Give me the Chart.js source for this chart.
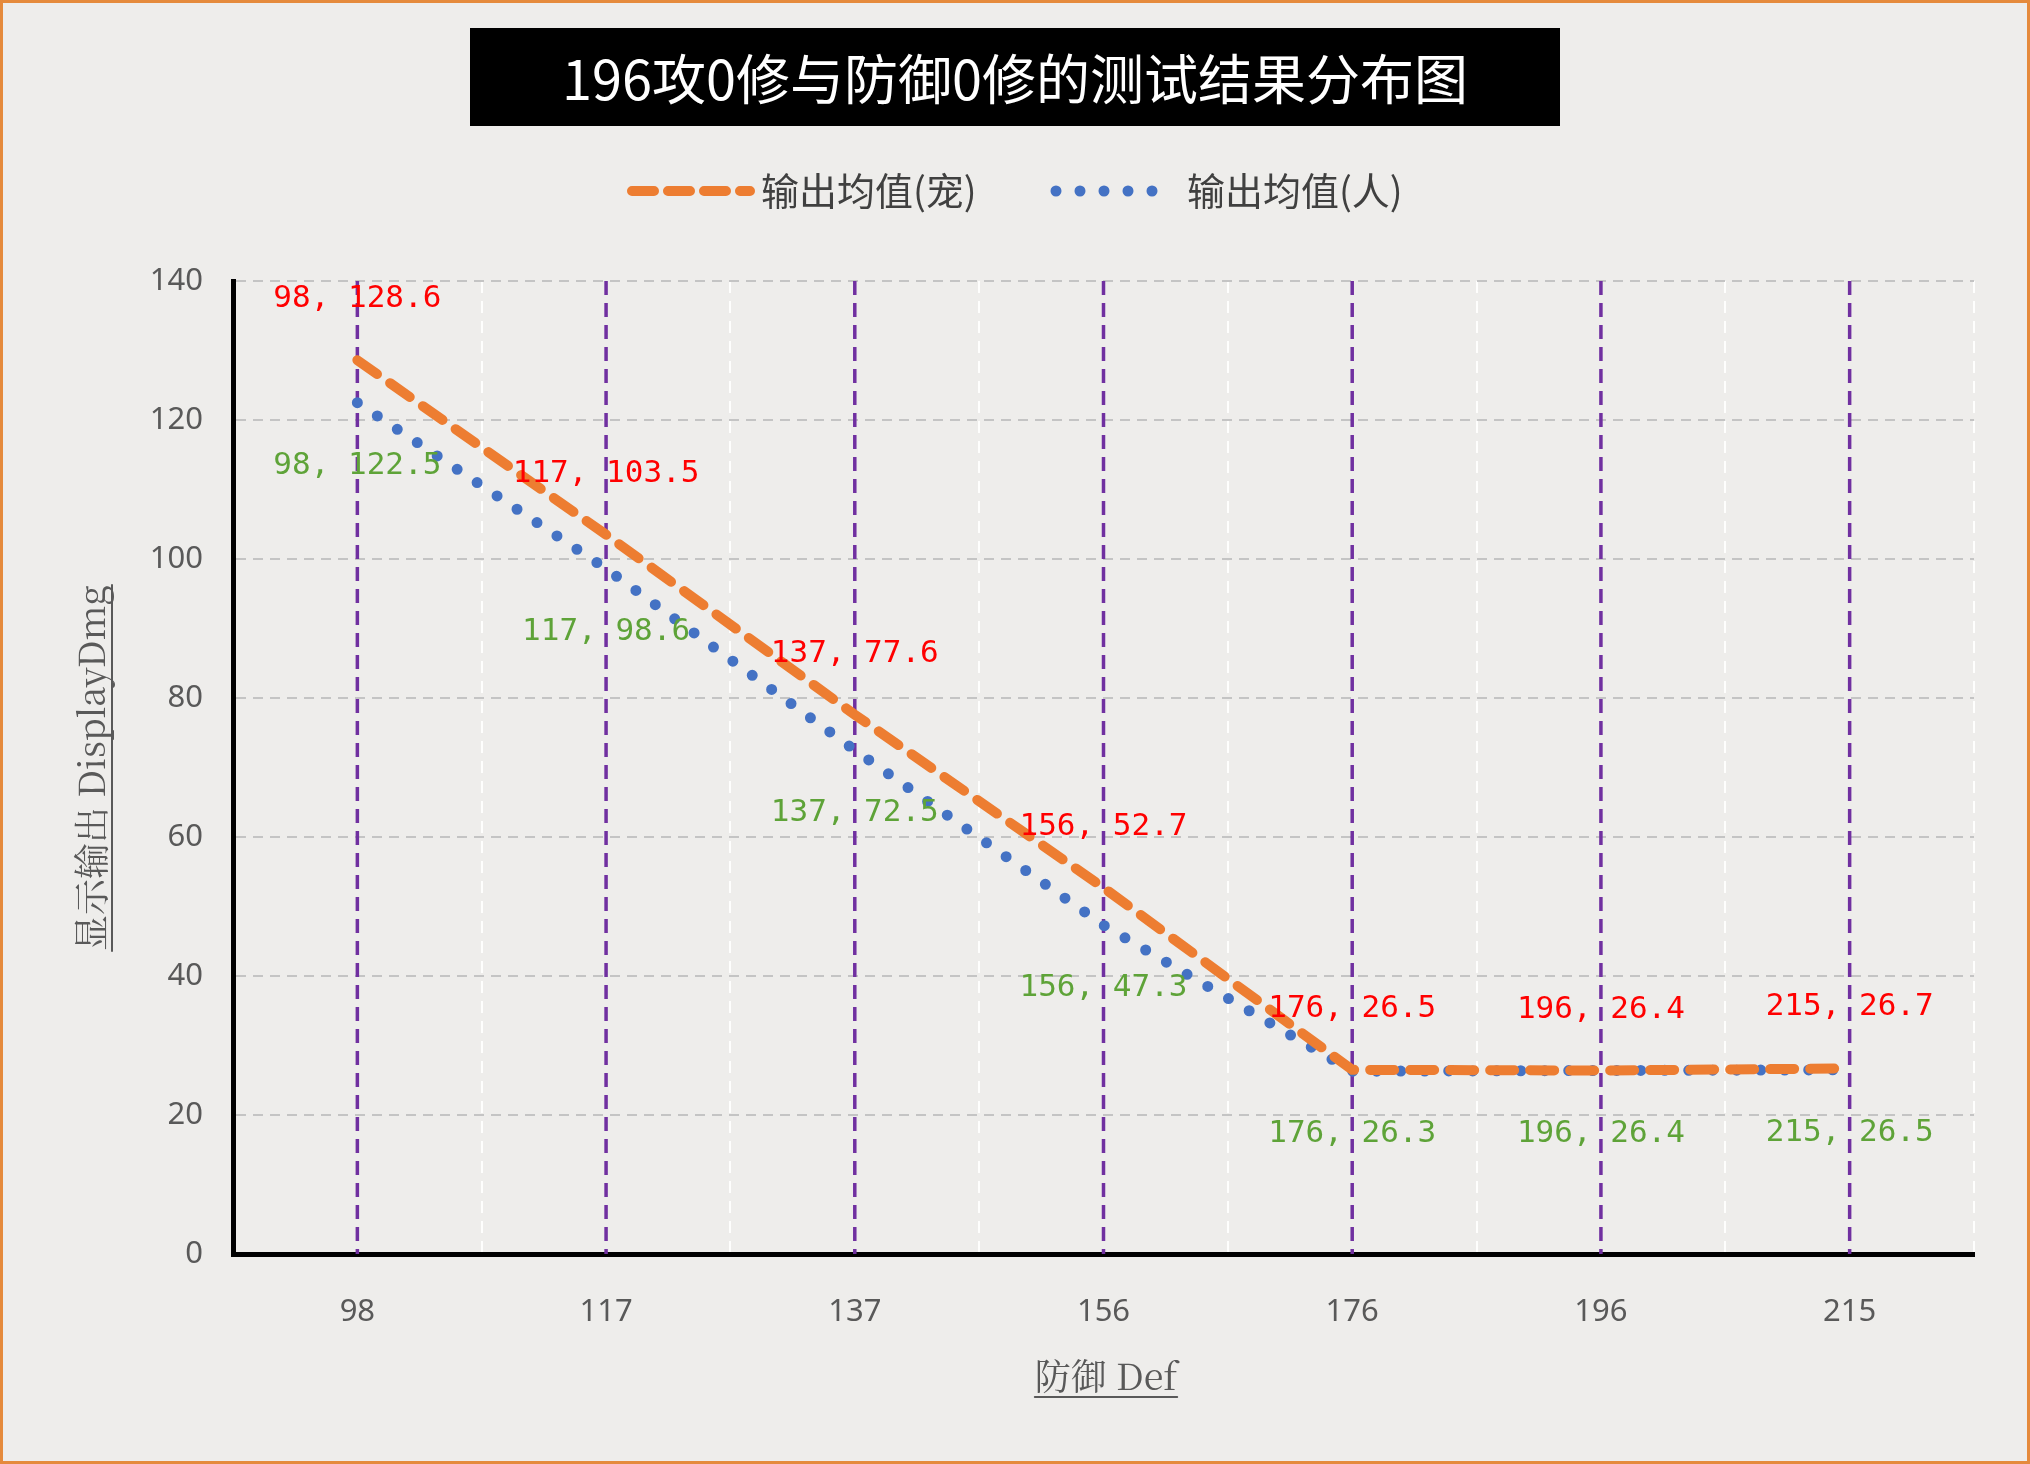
<!DOCTYPE html>
<html><head><meta charset="utf-8">
<script src="https://cdn.jsdelivr.net/npm/chart.js@4"></script>
<style>html,body{margin:0;padding:0;background:#eeedeb}canvas{display:block}</style>
</head><body>
<canvas id="c" width="2030" height="1464"></canvas>
<script>
const categories = ['98','117','137','156','176','196','215'];
const petValues = [128.6,103.5,77.6,52.7,26.5,26.4,26.7];
const humanValues = [122.5,98.6,72.5,47.3,26.3,26.4,26.5];
const yTicks = [0,20,40,60,80,100,120,140];
const titleText = '196攻0修与防御0修的测试结果分布图';
const petName = '输出均值(宠)', humanName = '输出均值(人)';
const CJK = '"Noto Sans CJK SC","Noto Sans",sans-serif';

const deco = {
  id:'deco',
  beforeDraw(ch){
    const c=ch.ctx; c.save();
    c.fillStyle='#eeedeb'; c.fillRect(0,0,ch.width,ch.height);
    c.strokeStyle='#e58a3c'; c.lineWidth=3; c.strokeRect(1.5,1.5,ch.width-3,ch.height-3);
    c.restore();
  },
  beforeDatasetsDraw(ch){
    const c=ch.ctx,a=ch.chartArea,x=ch.scales.x; c.save();
    c.strokeStyle='#7030a0'; c.lineWidth=3.5; c.setLineDash([14,8]);
    categories.forEach((_,i)=>{const px=x.getPixelForValue(i);c.beginPath();c.moveTo(px,a.top);c.lineTo(px,a.bottom);c.stroke();});
    c.restore();
  },
  afterDraw(ch){
    const c=ch.ctx,x=ch.scales.x,y=ch.scales.y; c.save();
    c.fillStyle='#000'; c.fillRect(470,28,1090,98);
    c.fillStyle='#fff'; c.font='54px '+CJK; c.textAlign='center'; c.textBaseline='middle';
    c.fillText(titleText,1015,79);
    c.lineCap='round';
    c.strokeStyle='#ed7d31'; c.lineWidth=10; c.setLineDash([22,14]);
    c.beginPath(); c.moveTo(632,191); c.lineTo(750,191); c.stroke();
    c.strokeStyle='#4472c4'; c.lineWidth=11; c.setLineDash([0,24]);
    c.beginPath(); c.moveTo(1056,191); c.lineTo(1175,191); c.stroke();
    c.setLineDash([]);
    c.fillStyle='#404040'; c.font='38px '+CJK; c.textAlign='left';
    c.fillText(petName,761,191); c.fillText(humanName,1187,191);
    c.font='31px "DejaVu Sans Mono",monospace'; c.textAlign='center';
    categories.forEach((cat,i)=>{
      const px=x.getPixelForValue(i);
      c.fillStyle='#ff0000'; c.fillText(cat+', '+petValues[i],px,y.getPixelForValue(petValues[i])-61);
      c.fillStyle='#5ea338'; c.fillText(cat+', '+humanValues[i],px,y.getPixelForValue(humanValues[i])+63);
    });
    c.fillStyle='#595959'; c.strokeStyle='#595959'; c.lineWidth=2;
    c.font='36px "Noto Serif CJK SC","Liberation Mono","DejaVu Serif",'+CJK;
    const xt='防御 Def'; const w=c.measureText(xt).width;
    c.fillText(xt,1106,1376); c.beginPath(); c.moveTo(1106-w/2,1397); c.lineTo(1106+w/2,1397); c.stroke();
    c.translate(91,768); c.rotate(-Math.PI/2);
    const yt='显示输出 DisplayDmg'; const w2=c.measureText(yt).width;
    c.fillText(yt,0,0); c.beginPath(); c.moveTo(-w2/2,21); c.lineTo(w2/2,21); c.stroke();
    c.restore();
  }
};

new Chart(document.getElementById('c'),{
  type:'line',
  data:{labels:categories,datasets:[
    {label:petName,data:petValues,borderColor:'#ed7d31',borderWidth:10,borderDash:[24,16],borderCapStyle:'round',pointRadius:0,tension:0},
    {label:humanName,data:humanValues,borderColor:'#4472c4',borderWidth:11,borderDash:[0,24],borderCapStyle:'round',pointRadius:0,tension:0}
  ]},
  options:{responsive:false,animation:false,
    layout:{padding:{top:281,right:56,left:0,bottom:0}},
    plugins:{legend:{display:false},tooltip:{enabled:false}},
    scales:{
      x:{offset:true,afterFit:s=>{s.height=210;},
        grid:{offset:true,color:'rgba(255,255,255,0.9)',lineWidth:2,drawTicks:false},
        border:{display:true,color:'#000',width:5,dash:[12,8]},
        ticks:{color:'#595959',font:{size:31,family:'"Noto Sans",sans-serif'},padding:40}},
      y:{min:0,max:140,afterFit:s=>{s.width=233;},
        afterBuildTicks:s=>{s.ticks=yTicks.map(v=>({value:v}));},
        grid:{color:'#c4c4c4',lineWidth:2,drawTicks:false},
        border:{display:true,color:'#000',width:5,dash:[10,7]},
        ticks:{color:'#595959',font:{size:31,family:'"Noto Sans",sans-serif'},padding:30}}
    }
  },
  plugins:[deco]
});
</script>
</body></html>
